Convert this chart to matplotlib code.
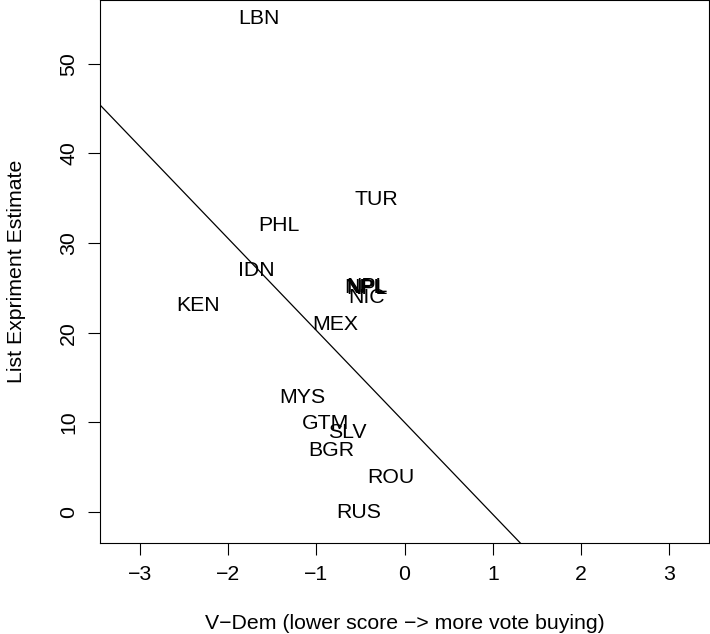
import numpy as np
import matplotlib
matplotlib.use("Agg")
import matplotlib.pyplot as plt

plt.rcParams['font.family'] = ['Liberation Sans', 'DejaVu Sans']

# country codes with V-Dem score and list experiment estimate
codes = ["LBN", "TUR", "PHL", "IDN", "KEN", "NPL", "NPL", "NPL", "NIC", "MEX",
         "MYS", "GTM", "SLV", "BGR", "ROU", "RUS"]
vdem = [-1.65, -0.32, -1.42, -1.68, -2.34, -0.45, -0.42, -0.43, -0.43, -0.79,
        -1.16, -0.89, -0.65, -0.83, -0.15, -0.52]
estimate = [55.0, 34.9, 31.9, 26.9, 23.0, 25.0, 24.9, 25.1, 23.9, 20.9,
            12.8, 9.9, 8.9, 6.9, 3.9, -0.1]

# fitted line
intercept = 10.0
slope = -10.26

xticks = [-3, -2, -1, 0, 1, 2, 3]
yticks = [0, 10, 20, 30, 40, 50]

fs = 15.3

fig = plt.figure(figsize=(7.1, 6.34), dpi=100)
ax = fig.add_axes([100/710, 91/634, 609/710, 543/634])

for c, x, y in zip(codes, vdem, estimate):
    ax.text(x, y, c, ha='center', va='center', fontsize=fs)

xs = np.array([-4, 4])
ax.plot(xs, intercept + slope * xs, color='black', lw=0.9)

ax.set_xlim(-3.45, 3.45)
ax.set_ylim(-3.46, 57.1)
ax.set_xticks(xticks)
ax.set_xticklabels([str(t).replace('-', '\u2212') for t in xticks])
ax.set_yticks(yticks)
ax.set_yticklabels([str(t) for t in yticks], rotation=90, va='center')
ax.tick_params(length=8.6, width=0.8, labelsize=fs, pad=7)
for s in ax.spines.values():
    s.set_linewidth(0.8)

ax.set_xlabel("V\u2212Dem (lower score \u2212> more vote buying)", fontsize=fs, labelpad=22)
ax.set_ylabel("List Expriment Estimate", fontsize=fs, labelpad=24)

fig.savefig("out.png", dpi=100)
